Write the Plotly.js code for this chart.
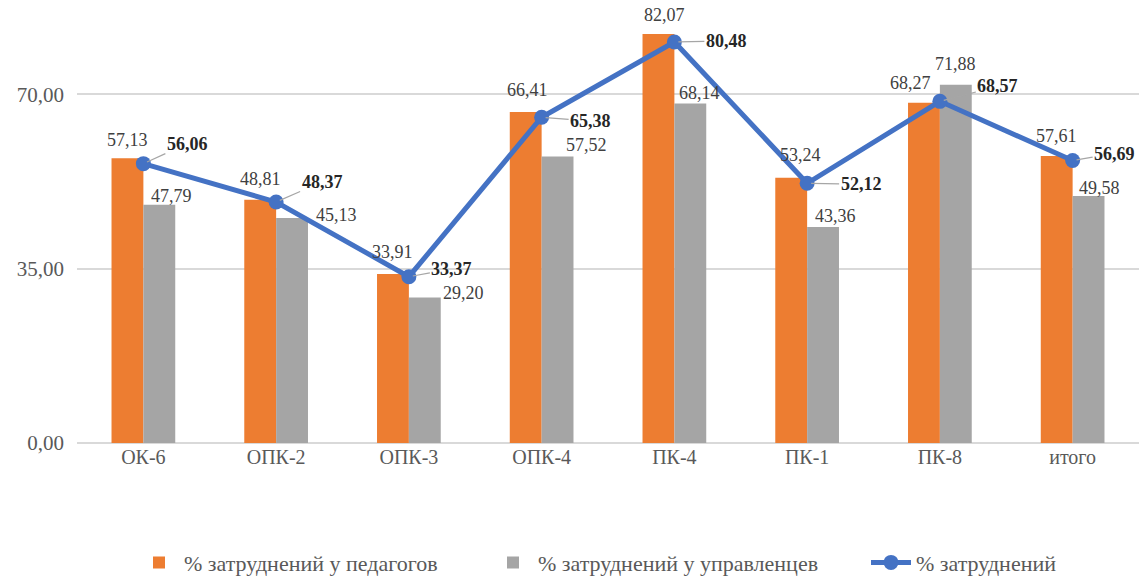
<!DOCTYPE html>
<html>
<head>
<meta charset="utf-8">
<script src="https://cdn.plot.ly/plotly-3.0.1.min.js"></script>
<style>
  html, body { margin: 0; padding: 0; background: #fff; }
  #chart { width: 1139px; height: 580px; }
</style>
</head>
<body>
<div id="chart"></div>
<script>
const categories = ['ОК-6', 'ОПК-2', 'ОПК-3', 'ОПК-4', 'ПК-4', 'ПК-1', 'ПК-8', 'итого'];
const teachers = [57.13, 48.81, 33.91, 66.41, 82.07, 53.24, 68.27, 57.61];
const managers = [47.79, 45.13, 29.20, 57.52, 68.14, 43.36, 71.88, 49.58];
const overall = [56.06, 48.37, 33.37, 65.38, 80.48, 52.12, 68.57, 56.69];

// label placement (px): shift from the category centre / height above the mark
const teacherDx = [-16, -16, -16, -14, -10, -7, -29, -16];
const teacherDy = [18, 21, 22, 22, 19, 23, 20, 20];
const managerDx = [28, 60, 55, 45, 25, 28, 16, 27];
const managerDy = [9, 3, 5, 11, 10, 11, 21, 8];
const overallDx = [44, 46, 43, 49, 52, 54, 58, 42];
const overallDy = [-20, -20, -8, 4, -1, 1, -15, -7];

const serif = 'Liberation Serif';
const fmt = v => v.toFixed(2).replace('.', ',');

const traceTeachers = {
  x: categories,
  y: teachers,
  type: 'bar',
  name: '% затруднений у педагогов',
  legend: 'legend',
  marker: { color: '#ED7D31' }
};

const traceManagers = {
  x: categories,
  y: managers,
  type: 'bar',
  name: '% затруднений у управленцев',
  legend: 'legend2',
  marker: { color: '#A5A5A5' }
};

const traceOverall = {
  x: categories,
  y: overall,
  type: 'scatter',
  mode: 'lines+markers',
  name: '% затруднений',
  legend: 'legend3',
  line: { color: '#4472C4', width: 5 },
  marker: { color: '#4472C4', size: 15 },
  cliponaxis: false
};

const annotations = [];
categories.forEach((c, i) => {
  annotations.push({
    x: c, y: teachers[i], xref: 'x', yref: 'y',
    text: fmt(teachers[i]), showarrow: false,
    xshift: teacherDx[i], yshift: teacherDy[i], yanchor: 'middle',
    font: { family: serif, size: 18, color: '#404040' }
  });
  annotations.push({
    x: c, y: managers[i], xref: 'x', yref: 'y',
    text: fmt(managers[i]), showarrow: false,
    xshift: managerDx[i], yshift: managerDy[i], yanchor: 'middle',
    font: { family: serif, size: 18, color: '#404040' }
  });
  annotations.push({
    x: c, y: overall[i], xref: 'x', yref: 'y',
    text: '<b>' + fmt(overall[i]) + '</b>',
    showarrow: true, arrowhead: 0, arrowwidth: 1.2, arrowcolor: '#A6A6A6',
    standoff: 4, ax: overallDx[i], ay: overallDy[i],
    font: { family: serif, size: 18, color: '#262626' }
  });
});

const legendBase = x => ({
  orientation: 'h',
  xref: 'container',
  yref: 'container',
  x: x,
  xanchor: 'left',
  y: 0.03,
  yanchor: 'middle',
  itemwidth: 40,
  font: { family: serif, size: 22, color: '#595959' }
});

const layout = {
  width: 1139,
  height: 580,
  margin: { l: 77, r: 0, t: 7, b: 137, autoexpand: false },
  paper_bgcolor: '#fff',
  plot_bgcolor: '#fff',
  separators: ', ',
  barmode: 'group',
  bargap: 0.52,
  bargroupgap: 0,
  showlegend: true,
  legend: legendBase(134 / 1139),
  legend2: legendBase(488 / 1139),
  legend3: legendBase(866 / 1139),
  font: { family: serif, color: '#595959' },
  xaxis: {
    showgrid: false,
    showline: false,
    ticks: '',
    tickfont: { family: serif, size: 20, color: '#595959' }
  },
  yaxis: {
    range: [0, 87.5],
    tickvals: [0, 35, 70],
    tickformat: '.2f',
    showgrid: true,
    gridcolor: '#D9D9D9',
    gridwidth: 2,
    zeroline: true,
    zerolinecolor: '#D9D9D9',
    zerolinewidth: 2,
    showline: false,
    ticks: '',
    ticklabelstandoff: 12,
    tickfont: { family: serif, size: 21, color: '#595959' }
  },
  annotations: annotations
};

Plotly.newPlot('chart', [traceTeachers, traceManagers, traceOverall], layout, { displayModeBar: false, staticPlot: true });
</script>
</body>
</html>
